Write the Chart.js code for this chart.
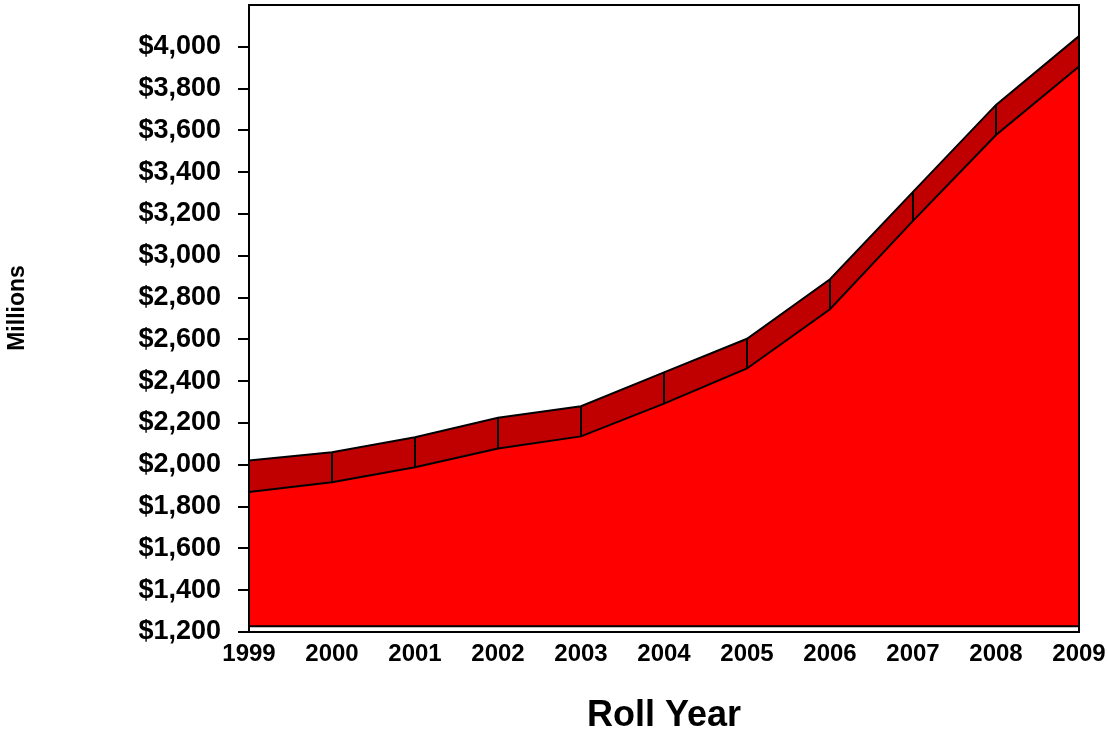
<!DOCTYPE html>
<html>
<head>
<meta charset="utf-8">
<script src="https://cdn.jsdelivr.net/npm/chart.js@4/dist/chart.umd.min.js"></script>
<style>
  html, body { margin: 0; padding: 0; background: #ffffff; }
  #wrap { width: 1108px; height: 734px; }
</style>
</head>
<body>
<div id="wrap"><canvas id="chart" width="1108" height="734"></canvas></div>
<script>
// Roll years on the category axis
const years = ['1999', '2000', '2001', '2002', '2003', '2004', '2005', '2006', '2007', '2008', '2009'];
// Lower series (bright red area), in millions of dollars
const lowerValues = [1870, 1916, 1988, 2078, 2136, 2293, 2461, 2744, 3167, 3578, 3906];
// Upper series (dark red band) top edge, in millions of dollars
const upperValues = [2021, 2060, 2132, 2225, 2280, 2442, 2603, 2888, 3306, 3722, 4051];
// Floor of the area fill
const floorValue = 1228;
// Value axis range and step
const yMin = 1200, yMax = 4200, yStep = 200;

const FONT = '"Liberation Sans", Arial, sans-serif';

// Draws the band dividers at each year, the frame round the plot and the unit label
const bandFramePlugin = {
  id: 'bandFrame',
  afterDatasetsDraw(chart) {
    const { ctx, chartArea: a, scales: { x, y } } = chart;
    ctx.save();
    ctx.strokeStyle = '#000000';
    ctx.lineWidth = 2;
    ctx.beginPath();
    for (let i = 0; i < years.length; i++) {
      const px = x.getPixelForValue(i);
      ctx.moveTo(px, y.getPixelForValue(upperValues[i]));
      ctx.lineTo(px, y.getPixelForValue(lowerValues[i]));
    }
    ctx.stroke();
    ctx.strokeRect(a.left, a.top, a.right - a.left, a.bottom - a.top);
    ctx.restore();
  },
  afterDraw(chart) {
    const { ctx } = chart;
    ctx.save();
    ctx.translate(18, 308);
    ctx.rotate(-Math.PI / 2);
    ctx.fillStyle = '#000000';
    ctx.font = 'bold 23px ' + FONT;
    ctx.textAlign = 'center';
    ctx.textBaseline = 'middle';
    ctx.fillText('Millions', 0, 0);
    ctx.restore();
  }
};

new Chart(document.getElementById('chart'), {
  type: 'line',
  data: {
    labels: years,
    datasets: [
      {
        label: 'Floor',
        data: years.map(() => floorValue),
        borderColor: '#000000',
        borderWidth: 2,
        pointRadius: 0,
        fill: false,
        tension: 0
      },
      {
        label: 'Lower',
        data: lowerValues,
        borderColor: '#000000',
        borderWidth: 2,
        backgroundColor: '#ff0000',
        pointRadius: 0,
        fill: { value: floorValue },
        tension: 0
      },
      {
        label: 'Upper',
        data: upperValues,
        borderColor: '#000000',
        borderWidth: 2,
        backgroundColor: '#c00000',
        pointRadius: 0,
        fill: '-1',
        tension: 0
      }
    ]
  },
  options: {
    responsive: false,
    animation: false,
    layout: { padding: { top: 5, right: 29, left: 0, bottom: 0 } },
    plugins: {
      legend: { display: false },
      tooltip: { enabled: false }
    },
    scales: {
      x: {
        offset: false,
        afterFit(scale) {
          scale.height = 102;
          scale.paddingLeft = 0;
          scale.paddingRight = 0;
        },
        grid: { display: false, drawTicks: false },
        border: { display: true, color: '#000000', width: 2 },
        ticks: {
          color: '#000000',
          padding: 8,
          maxRotation: 0,
          autoSkip: false,
          font: { family: FONT, size: 24, weight: 'bold' }
        },
        title: {
          display: true,
          text: 'Roll Year',
          color: '#000000',
          padding: { top: 0, bottom: -4 },
          font: { family: FONT, size: 36, weight: 'bold' }
        }
      },
      y: {
        min: yMin,
        max: yMax,
        afterFit(scale) {
          scale.width = 249;
          scale.paddingTop = 0;
          scale.paddingBottom = 0;
        },
        grid: {
          drawOnChartArea: false,
          drawTicks: true,
          tickLength: 11,
          lineWidth: 2,
          color: (c) => (c.tick && c.tick.value === yMax ? 'rgba(0,0,0,0)' : '#000000')
        },
        border: { display: true, color: '#000000', width: 2 },
        ticks: {
          stepSize: yStep,
          color: '#000000',
          padding: 17,
          font: { family: FONT, size: 27, weight: 'bold' },
          callback: (v) => (v === yMax ? '' : '$' + v.toLocaleString('en-US'))
        },
        title: { display: false }
      }
    }
  },
  plugins: [bandFramePlugin]
});
</script>
</body>
</html>
